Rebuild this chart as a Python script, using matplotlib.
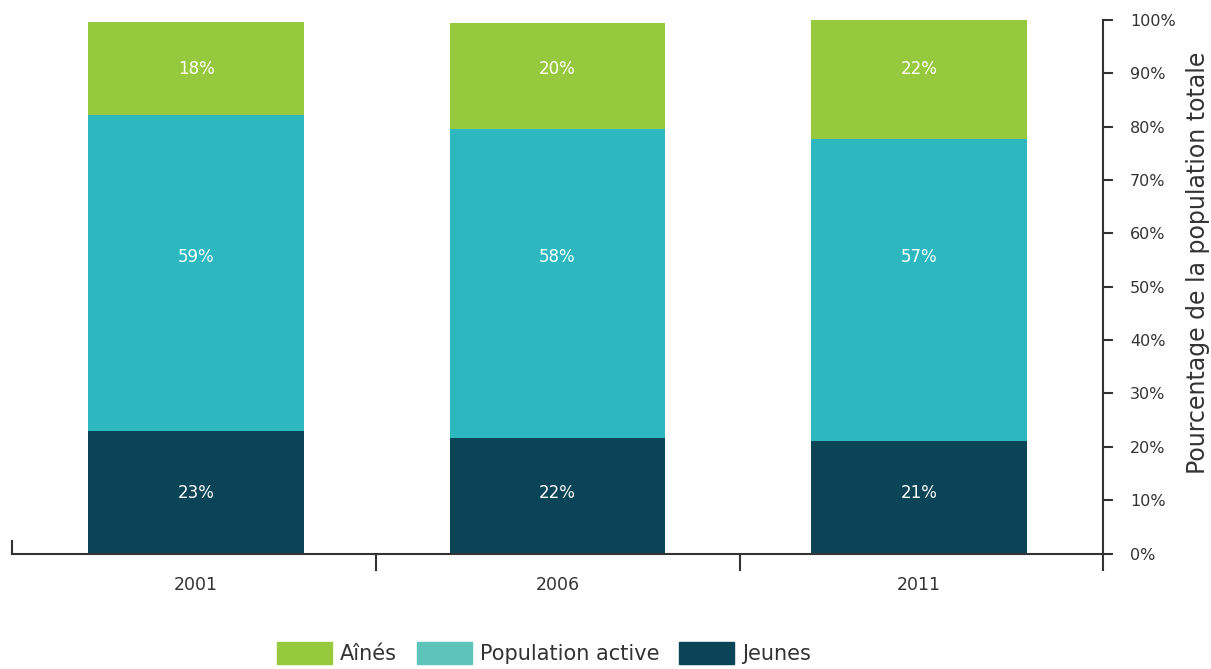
import matplotlib
matplotlib.use("Agg")
import matplotlib.pyplot as plt
from matplotlib.lines import Line2D
from matplotlib.patches import Patch
import numpy as np

plt.rcParams['font.family'] = ['DejaVu Sans']

years = ["2001", "2006", "2011"]
jeunes = [22.9, 21.6, 21.1]
active = [59.3, 57.9, 56.6]
aines = [17.4, 19.9, 22.3]
jeunes_labels = ["23%", "22%", "21%"]
active_labels = ["59%", "58%", "57%"]
aines_labels = ["18%", "20%", "22%"]
yticks = [0, 10, 20, 30, 40, 50, 60, 70, 80, 90, 100]

c_aines = "#96C93D"
c_active = "#2DB7BF"
c_active_leg = "#5EC3BB"
c_jeunes = "#0B4457"
axis_col = "#333333"
text_col = "#333333"

W, H = 1211, 669
fig = plt.figure(figsize=(W / 100, H / 100), dpi=100)
L, R, B, T = 12, 1103, 553.5, 20
ax = fig.add_axes([L / W, (H - B) / H, (R - L) / W, (B - T) / H])

x = np.arange(len(years))
bw = 0.5975
ax.bar(x, jeunes, bw, color=c_jeunes)
ax.bar(x, active, bw, bottom=jeunes, color=c_active)
ax.bar(x, aines, bw, bottom=np.array(jeunes) + np.array(active), color=c_aines)

# label placement (as in the original, labels sit at fixed heights)
JEUNES_LABEL_Y = 11.3
ACTIVE_LABEL_Y = 55.6
AINES_LABEL_Y = 90.8
fs_in = 12
for i in range(len(years)):
    ax.text(x[i], JEUNES_LABEL_Y, jeunes_labels[i], ha="center", va="center",
            color="white", fontsize=fs_in)
    ax.text(x[i], ACTIVE_LABEL_Y, active_labels[i], ha="center", va="center",
            color="white", fontsize=fs_in)
    ax.text(x[i], AINES_LABEL_Y, aines_labels[i], ha="center", va="center",
            color="white", fontsize=fs_in)

ax.set_xlim(-0.509, len(years) - 1 + 0.509)
ax.set_ylim(0, 100)

for s in ["left", "top", "right"]:
    ax.spines[s].set_visible(False)
ax.spines["bottom"].set_color(axis_col)
ax.spines["bottom"].set_linewidth(1.5)

ax.set_xticks(x)
ax.set_xticklabels(years, fontsize=12.5, color=text_col)
ax.tick_params(axis="x", length=0, pad=16)

ax.yaxis.tick_right()
ax.yaxis.set_label_position("right")
ax.set_yticks(yticks)
ax.set_yticklabels([f"{v}%" for v in yticks], fontsize=11.5, color=text_col)
ax.tick_params(axis="y", direction="out", length=7.5, width=1.5, color=axis_col, pad=12)
ax.set_ylabel("Pourcentage de la population totale", fontsize=17, color=text_col)
ax.yaxis.set_label_coords((1186 - L) / (R - L), (B - 263) / (B - T))

# right axis line, extending below the baseline
fig.add_artist(Line2D([R / W, R / W], [(H - T) / H, (H - 570) / H], color=axis_col, lw=1.5))
# separator ticks
for xp in [376, 740]:
    fig.add_artist(Line2D([xp / W, xp / W], [(H - B) / H, (H - 570) / H], color=axis_col, lw=1.5))
fig.add_artist(Line2D([L / W, L / W], [(H - B) / H, (H - 541) / H], color=axis_col, lw=1.5))

handles = [Patch(color=c_aines, label="Aînés"),
           Patch(color=c_active_leg, label="Population active"),
           Patch(color=c_jeunes, label="Jeunes")]
fig.legend(handles=handles, loc="center", bbox_to_anchor=(544 / W, (H - 653) / H),
           ncol=3, frameon=False, fontsize=15, handlelength=2.64, handleheight=1.25,
           handletextpad=0.38, columnspacing=0.96, labelcolor=text_col)

fig.savefig("out.png", dpi=100)
